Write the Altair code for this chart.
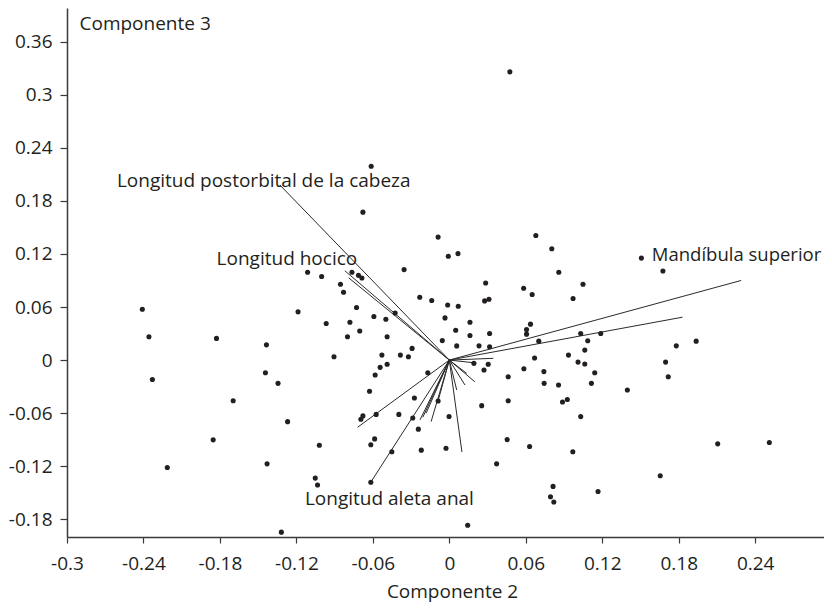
import altair as alt
import pandas as pd

# Scores (Componente 2, Componente 3)
score_x = [-0.2409, -0.2357, -0.1827, -0.1435, -0.1187, -0.1443, -0.2330, -0.1344, -0.1696, -0.1269,
           -0.1853, -0.2213, -0.1430, -0.1318, 0.0475, -0.0613, -0.0678, -0.0088, -0.0008, 0.0068,
           0.0679, 0.0804, 0.0859, -0.0355, -0.1112, -0.1002, -0.0764, -0.0713, -0.0686, -0.0854,
           -0.0830, 0.0285, 0.0583, 0.0650, 0.0971, 0.0277, 0.0311, -0.0232, -0.0138, -0.0013,
           0.0070, -0.0728, -0.0966, -0.0780, -0.0592, -0.0498, -0.0425, -0.0703, -0.0799, -0.0488,
           -0.0034, 0.0162, 0.0050, 0.0162, 0.0316, 0.0637, 0.0606, 0.0606, 0.0702, -0.0055,
           0.0058, 0.0233, 0.0316, -0.0292, -0.0384, -0.0321, -0.0529, -0.0905, -0.0488, -0.0543,
           -0.0582, -0.0169, 0.0193, 0.0305, 0.0272, 0.0462, 0.0585, 0.0742, 0.0669, 0.0935,
           0.1010, -0.0626, -0.0274, -0.0088, 0.0254, 0.0744, 0.0857, 0.0462, 0.0888, 0.0926,
           -0.0678, -0.0694, -0.0574, -0.0396, -0.0287, -0.0002, -0.0243, -0.0586, -0.0616, -0.1020,
           -0.0451, -0.0220, -0.0026, 0.0454, 0.0630, 0.0969, 0.0371, -0.0616, -0.1052, -0.1034,
           0.0814, 0.0794, 0.0820, 0.0144, 0.1507, 0.1676, 0.1049, 0.1031, 0.1188, 0.1086,
           0.1063, 0.1063, 0.1141, 0.1781, 0.1937, 0.1697, 0.1718, 0.1115, 0.1031, 0.1397,
           0.2106, 0.2511, 0.1655, 0.1167]
score_y = [0.0575, 0.0263, 0.0245, 0.0172, 0.0545, -0.0143, -0.0220, -0.0263, -0.0459, -0.0696,
           -0.0902, -0.1214, -0.1173, -0.1945, 0.3258, 0.2191, 0.1672, 0.1390, 0.1173, 0.1203,
           0.1409, 0.1259, 0.0992, 0.1023, 0.0992, 0.0944, 0.0992, 0.0958, 0.0928, 0.0857,
           0.0767, 0.0871, 0.0812, 0.0741, 0.0696, 0.0669, 0.0688, 0.0710, 0.0673, 0.0623,
           0.0609, 0.0594, 0.0414, 0.0428, 0.0493, 0.0462, 0.0533, 0.0329, 0.0263, 0.0263,
           0.0477, 0.0428, 0.0338, 0.0278, 0.0301, 0.0406, 0.0346, 0.0293, 0.0214, 0.0220,
           0.0160, 0.0161, 0.0150, 0.0132, 0.0056, 0.0037, 0.0056, 0.0037, -0.0047, -0.0082,
           -0.0169, -0.0143, -0.0037, -0.0048, -0.0113, -0.0188, -0.0098, -0.0130, 0.0023, 0.0056,
           -0.0023, -0.0353, -0.0428, -0.0462, -0.0515, -0.0263, -0.0282, -0.0459, -0.0474, -0.0445,
           -0.0631, -0.0669, -0.0614, -0.0614, -0.0654, -0.0637, -0.0781, -0.0891, -0.0958, -0.0962,
           -0.1037, -0.1018, -0.0996, -0.0899, -0.0977, -0.1037, -0.1173, -0.1381, -0.1334, -0.1413,
           -0.1428, -0.1545, -0.1604, -0.1868, 0.1153, 0.1007, 0.0857, 0.0301, 0.0301, 0.0218,
           0.0113, -0.0045, -0.0143, 0.0161, 0.0214, -0.0023, -0.0188, -0.0263, -0.0639, -0.0338,
           -0.0947, -0.0932, -0.1308, -0.1485]

# Loading vectors (drawn from the origin)
load_x = [-0.133, -0.082, -0.079, 0.229, 0.183, 0.0345, 0.019, -0.072, -0.0616,
          -0.023, -0.0208, -0.0182, -0.0143, -0.0086, 0.0099, 0.0058, 0.020, 0.0123, 0.0136]
load_y = [0.198, 0.101, 0.093, 0.090, 0.0485, 0.002, -0.003, -0.076, -0.138,
          -0.0676, -0.0646, -0.0601, -0.0696, -0.045, -0.104, -0.0338, -0.0245, -0.0282, -0.015]

label_text = ["Longitud postorbital de la cabeza", "Longitud hocico",
              "Mandíbula superior", "Longitud aleta anal"]
label_x = [-0.2608, -0.1826, 0.1589, -0.1133]
label_y = [0.1962, 0.1070, 0.1118, -0.1639]

x_ticks = [-0.3, -0.24, -0.18, -0.12, -0.06, 0, 0.06, 0.12, 0.18, 0.24]
y_ticks = [-0.18, -0.12, -0.06, 0, 0.06, 0.12, 0.18, 0.24, 0.3, 0.36]

FONT = "Open Sans"
INK = "#231f20"
AXC = "#3a3a3a"

scores = pd.DataFrame({"x": score_x, "y": score_y})
loads = pd.DataFrame({"x0": [0.0] * len(load_x), "y0": [0.0] * len(load_x),
                      "x": load_x, "y": load_y})
labels = pd.DataFrame({"t": label_text, "x": label_x, "y": label_y})

xs = alt.Scale(domain=[-0.3, 0.294], nice=False, zero=False)
ys = alt.Scale(domain=[-0.2, 0.398], nice=False, zero=False)

x_axis = alt.Axis(values=x_ticks, title="Componente 2", grid=False,
                  tickSize=6, labelPadding=11, labelExpr="'' + datum.value",
                  titleX=385, titleY=60, titleBaseline="alphabetic", titleAlign="center",
                  labelFlush=False, labelOverlap=False)
y_axis = alt.Axis(values=y_ticks, title="Componente 3", grid=False,
                  tickSize=7, labelPadding=8, labelExpr="'' + datum.value",
                  titleAngle=0, titleAlign="left", titleBaseline="alphabetic",
                  titleX=12, titleY=21, labelFlush=False, labelOverlap=False)

rules = alt.Chart(loads).mark_rule(color="#2a2a2a", strokeWidth=1).encode(
    x=alt.X("x0:Q", scale=xs, axis=x_axis),
    y=alt.Y("y0:Q", scale=ys, axis=y_axis),
    x2="x:Q",
    y2="y:Q",
)

points = alt.Chart(scores).mark_point(filled=True, shape="circle", size=26,
                                      color=INK, opacity=1).encode(
    x=alt.X("x:Q", scale=xs),
    y=alt.Y("y:Q", scale=ys),
)

texts = alt.Chart(labels).mark_text(align="left", baseline="alphabetic",
                                    font=FONT, fontSize=19, color=INK).encode(
    x=alt.X("x:Q", scale=xs),
    y=alt.Y("y:Q", scale=ys),
    text="t:N",
).transform_filter("datum.t != 'Mandíbula superior'")

texts_right = alt.Chart(labels).mark_text(align="left", baseline="alphabetic",
                                          font=FONT, fontSize=18.5, color=INK).encode(
    x=alt.X("x:Q", scale=xs),
    y=alt.Y("y:Q", scale=ys),
    text="t:N",
).transform_filter("datum.t == 'Mandíbula superior'")

chart = alt.layer(rules, points, texts, texts_right).properties(
    width=757, height=529,
    autosize="none",
    padding={"left": 59, "top": 0, "right": 0, "bottom": 65},
).configure_view(stroke=None).configure_axis(
    domainColor=AXC, domainWidth=1.5, tickColor=AXC, tickWidth=1.2,
    labelFont=FONT, labelFontSize=19, labelColor=INK,
    titleFont=FONT, titleFontSize=19, titleColor=INK, titleFontWeight="normal",
)

chart.save("out.html", embed_options={"renderer": "svg", "actions": False})
